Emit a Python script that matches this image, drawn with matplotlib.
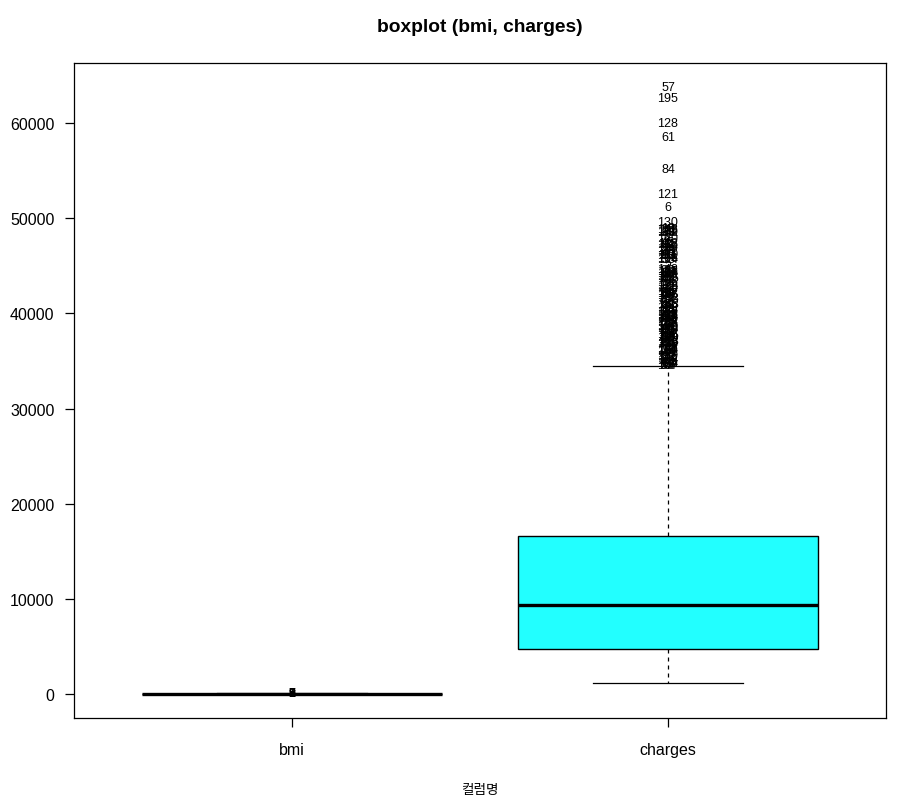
import matplotlib
matplotlib.use("Agg")
import matplotlib.pyplot as plt

plt.rcParams['font.family'] = ['Liberation Sans', 'Noto Sans CJK KR', 'DejaVu Sans']

# Box statistics
columns = ['bmi', 'charges']
whisker_low = [15.96, 1121.87]
q1 = [26.30, 4740.29]
median = [30.40, 9382.03]
q3 = [34.69, 16639.91]
whisker_high = [47.29, 34472.84]

# Outliers with their printed labels
bmi_outliers = [47.41, 47.52, 47.60, 47.74, 48.07, 49.06, 50.38, 52.58, 53.13]
bmi_labels = [1, 2, 3, 4, 5, 6, 7, 8, 9]

charges_outliers = [
    63770.43, 62592.87, 60021.40, 58571.07, 55135.40, 52590.83, 51194.56, 49577.66, 48970.25, 48885.14,
    48824.45, 48675.52, 48673.56, 48549.18, 48517.56, 47928.03, 47896.79, 47462.89, 47403.88, 47305.31,
    47291.06, 47269.85, 47055.53, 46889.26, 46718.16, 46661.44, 46599.11, 46255.11, 46200.99, 46151.12,
    46130.53, 46113.51, 45863.21, 45710.21, 45702.02, 45008.96, 44641.20, 44585.46, 44501.40, 44423.80,
    44400.41, 44260.75, 44202.65, 43943.88, 43921.18, 43896.38, 43813.87, 43753.34, 43578.94, 43254.42,
    42983.46, 42969.85, 42856.84, 42760.50, 42560.43, 42303.69, 42211.14, 42124.52, 42112.24, 42111.66,
    41999.52, 41949.24, 41919.10, 41676.08, 41661.60, 41097.16, 41034.22, 40974.16, 40941.29, 40932.43,
    40904.20, 40720.55, 40419.02, 40273.65, 40182.25, 40103.89, 40003.33, 39983.43, 39871.70, 39836.52,
    39774.28, 39727.61, 39725.52, 39722.75, 39611.76, 39597.41, 39556.49, 39241.44, 39125.33, 39047.29,
    38998.55, 38792.69, 38746.36, 38711.00, 38709.18, 38511.63, 38415.47, 38344.57, 38282.75, 38245.59,
    38126.25, 37829.72, 37742.58, 37701.88, 37607.53, 37484.45, 37465.34, 37270.15, 37165.16, 37133.90,
    37079.37, 36950.26, 36910.61, 36898.73, 36837.47, 36580.28, 36397.58, 36307.80, 36219.41, 36197.70,
    36189.10, 36149.48, 36124.57, 36085.22, 36021.01, 35595.59, 35585.58, 35491.64, 35160.13, 35147.53,
    35069.37, 35001.53, 34838.87, 34828.65, 34806.47, 34779.61, 34672.15, 34617.84, 34566.00,
]
charges_labels = [
    57, 195, 128, 61, 84, 121, 6, 130, 12, 88,
    143, 29, 175, 33, 102, 7, 160, 45, 118, 91,
    3, 152, 66, 189, 24, 137, 74, 110, 19, 181,
    50, 97, 166, 38, 124, 2, 148, 79, 113, 171,
    15, 58, 134, 92, 186, 27, 69, 155, 41, 106,
    178, 9, 82, 140, 53, 197, 31, 117, 64, 162,
    22, 99, 145, 71, 183, 36, 125, 4, 158, 87,
    48, 192, 13, 132, 76, 169, 55, 108, 26, 151,
    93, 17, 174, 62, 139, 40, 115, 184, 8, 127,
    70, 156, 34, 100, 190, 21, 146, 59, 119, 80,
    11, 167, 44, 135, 95, 199, 28, 111, 73, 153,
    1, 86, 179, 49, 123, 65, 141, 18, 104, 187,
    37, 159, 77, 5, 131, 96, 170, 52, 114, 25,
    163, 43, 89, 194, 14, 136, 68, 107, 32,
]

yticks = [0, 10000, 20000, 30000, 40000, 50000, 60000]

fig = plt.figure(figsize=(9.05, 8.03), dpi=100)
ax = fig.add_axes([74/905, 84/803, 812/905, 655/803])

stats = []
for i, name in enumerate(columns):
    stats.append({'label': name, 'whislo': whisker_low[i], 'q1': q1[i], 'med': median[i],
                  'q3': q3[i], 'whishi': whisker_high[i], 'fliers': []})

ax.bxp(stats, positions=[1, 2], widths=0.8, capwidths=0.4, patch_artist=True,
       showfliers=False,
       boxprops=dict(facecolor='#22ffff', edgecolor='black', linewidth=1.0),
       medianprops=dict(color='black', linewidth=2.4, solid_capstyle='butt'),
       whiskerprops=dict(color='black', linewidth=0.9, linestyle=(0, (3.2, 3.2))),
       capprops=dict(color='black', linewidth=0.9))

# outlier labels drawn in place of points
for val, lab in zip(bmi_outliers, bmi_labels):
    ax.text(1, val, str(lab), ha='center', va='center', fontsize=9.0, color='black')
for val, lab in zip(charges_outliers, charges_labels):
    ax.text(2, val, str(lab), ha='center', va='center', fontsize=9.0, color='black')

ax.set_xlim(0.42, 2.58)
ax.set_ylim(-2534, 66320)
ax.set_yticks(yticks)
ax.set_yticklabels([str(t) for t in yticks])
ax.set_xticks([1, 2])
ax.set_xticklabels(columns)
ax.tick_params(axis='both', direction='out', length=6.5, width=0.9, labelsize=11.5, colors='black')
ax.tick_params(axis='y', pad=7.5)
ax.tick_params(axis='x', pad=10.5)
for sp in ax.spines.values():
    sp.set_linewidth(0.9)

fig.text(480/905, 1 - 28/803, 'boxplot (bmi, charges)', ha='center', va='center',
         fontsize=13.8, fontweight='bold')
fig.text(480/905, 1 - 790/803, '컬럼명', ha='center', va='center', fontsize=9.8)

fig.savefig('out.png', dpi=100)
